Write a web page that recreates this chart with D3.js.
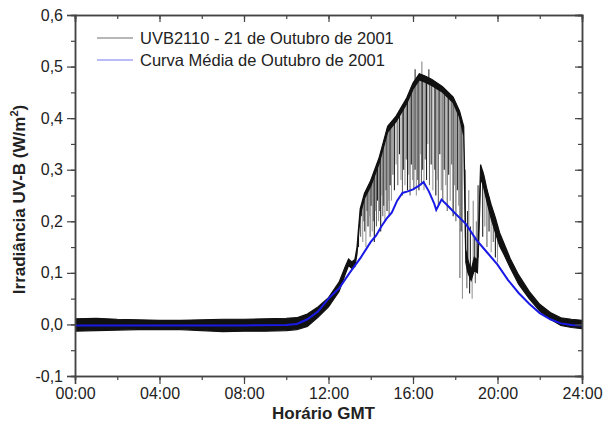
<!DOCTYPE html>
<html>
<head>
<meta charset="utf-8">
<script src="https://cdn.jsdelivr.net/npm/d3@7"></script>
<style>
  body { margin: 0; background: #fff; }
  svg text { font-family: "Liberation Sans", Arial, sans-serif; fill: #222; }
</style>
</head>
<body>
<div id="chart"></div>
<script>
// UVB2110 - 21 Oct 2001: envelope of the noisy trace (upper/lower edge)
var bandHour = [0, 1, 2, 3, 4, 5, 6, 7, 8, 9, 10, 10.5, 11, 11.5, 12, 12.5, 12.8, 12.95, 13.1, 13.25, 13.35,
  13.5, 13.7, 14.0, 14.4, 14.8, 15.2, 15.7, 16.0, 16.3, 16.6, 16.9, 17.4, 17.9, 18.2, 18.4, 18.45,
  18.5, 18.6, 18.75, 18.9, 19.05, 19.12, 19.2, 19.35, 19.5, 19.7, 19.9, 20.1, 20.3, 20.6, 21.0,
  21.5, 22.0, 22.5, 23.0, 23.5, 24.0];
var bandHi = [0.011, 0.012, 0.010, 0.009, 0.008, 0.008, 0.009, 0.010, 0.010, 0.011, 0.012, 0.013, 0.020, 0.034, 0.052, 0.082, 0.113, 0.127, 0.121, 0.126, 0.150,
  0.224, 0.254, 0.279, 0.324, 0.384, 0.404, 0.439, 0.468, 0.486, 0.481, 0.475, 0.461, 0.441, 0.414, 0.384, 0.28,
  0.145, 0.125, 0.105, 0.13, 0.125, 0.20, 0.31, 0.29, 0.262, 0.232, 0.207, 0.178, 0.158, 0.128, 0.096,
  0.064, 0.039, 0.023, 0.013, 0.010, 0.008];
var bandLo = [-0.013, -0.012, -0.011, -0.010, -0.010, -0.010, -0.012, -0.014, -0.013, -0.013, -0.012, -0.010, -0.004, 0.014, 0.034, 0.064, 0.098, 0.114, 0.109, 0.112, 0.137,
  0.212, 0.244, 0.268, 0.313, 0.373, 0.393, 0.428, 0.456, 0.474, 0.469, 0.463, 0.450, 0.430, 0.402, 0.366, 0.24,
  0.12, 0.10, 0.085, 0.105, 0.10, 0.17, 0.285, 0.265, 0.238, 0.205, 0.178, 0.152, 0.136, 0.110, 0.078,
  0.050, 0.026, 0.010, -0.002, -0.006, -0.008];

// cloud dips: hour and lowest value reached
var dipHour = [13.42, 13.47, 13.52, 13.57, 13.62, 13.67, 13.72, 13.77, 13.82, 13.87, 13.92, 13.97, 14.02, 14.07, 14.12,
  14.17, 14.22, 14.27, 14.32, 14.37, 14.42, 14.47, 14.52, 14.57, 14.62, 14.67, 14.72, 14.77, 14.82, 14.87, 14.92,
  14.98, 15.05, 15.12, 15.2, 15.28, 15.36, 15.43, 15.5, 15.56, 15.62, 15.68, 15.74, 15.8, 15.86, 15.92, 15.98,
  16.04, 16.1, 16.16, 16.22, 16.28, 16.34, 16.4, 16.46, 16.52, 16.58, 16.64, 16.7, 16.78, 16.86, 16.94,
  17.02, 17.08, 17.14, 17.2, 17.27, 17.34, 17.41, 17.48, 17.55, 17.62, 17.69, 17.76, 17.83, 17.9, 17.96,
  18.03, 18.1, 18.16, 18.22, 18.28, 18.34, 18.55, 18.68, 18.8, 18.95, 19.3, 19.4, 19.5, 19.6, 19.7, 19.8, 19.9, 20.0];
var dipLow = [0.15, 0.19, 0.17, 0.21, 0.16, 0.20, 0.18, 0.15, 0.22, 0.19, 0.21, 0.17, 0.23, 0.18, 0.20,
  0.16, 0.22, 0.19, 0.24, 0.20, 0.22, 0.18, 0.25, 0.21, 0.23, 0.20, 0.26, 0.22, 0.24, 0.21, 0.27,
  0.24, 0.29, 0.26, 0.31, 0.27, 0.33, 0.28, 0.25, 0.30, 0.27, 0.32, 0.26, 0.29, 0.25, 0.31, 0.28,
  0.26, 0.30, 0.25, 0.28, 0.26, 0.33, 0.27, 0.30, 0.26, 0.32, 0.28, 0.35, 0.27, 0.31, 0.26,
  0.30, 0.25, 0.28, 0.23, 0.33, 0.26, 0.24, 0.30, 0.27, 0.22, 0.29, 0.24, 0.31, 0.21, 0.27,
  0.20, 0.26, 0.23, 0.09, 0.18, 0.05, 0.07, 0.06, 0.05, 0.08, 0.17, 0.19, 0.15, 0.18, 0.14, 0.16, 0.13, 0.12];

// short upward spikes: hour and highest value reached
var peakHour = [16.1, 16.42, 16.75, 18.48, 18.58, 18.64, 18.72, 18.85, 18.92, 19.0, 19.08];
var peakHigh = [0.495, 0.51, 0.495, 0.30, 0.22, 0.26, 0.19, 0.24, 0.17, 0.20, 0.27];

// Curva Média de Outubro de 2001
var meanHour = [0, 2, 4, 6, 8, 10, 10.5, 11, 11.5, 12, 12.5, 13, 13.5, 14, 14.25, 14.5, 14.75, 15, 15.25, 15.5,
  15.75, 16, 16.25, 16.5, 16.75, 17, 17.1, 17.35, 17.6, 18, 18.5, 19, 19.5, 20, 20.5, 21, 21.5, 22, 22.5, 23, 23.5, 24];
var meanValue = [-0.002, -0.002, -0.002, -0.002, -0.002, -0.001, 0.001, 0.010, 0.025, 0.050, 0.070, 0.100, 0.128, 0.160, 0.172, 0.190, 0.205, 0.217, 0.240, 0.255,
  0.258, 0.262, 0.268, 0.276, 0.258, 0.235, 0.222, 0.242, 0.232, 0.215, 0.195, 0.164, 0.140, 0.116, 0.086, 0.061, 0.040, 0.022, 0.010, 0.002, -0.001, -0.002];

var xTickHours = [0, 4, 8, 12, 16, 20, 24];
var xTickLabels = ["00:00", "04:00", "08:00", "12:00", "16:00", "20:00", "24:00"];
var yTickValues = [-0.1, 0, 0.1, 0.2, 0.3, 0.4, 0.5, 0.6];
var legendLabels = ["UVB2110 - 21 de Outubro de 2001", "Curva Média de Outubro de 2001"];

var width = 605, height = 426;
var margin = { left: 75, right: 23, top: 15, bottom: 50 };
var innerW = width - margin.left - margin.right;
var innerH = height - margin.top - margin.bottom;

var svg = d3.select("#chart").append("svg")
  .attr("width", width)
  .attr("height", height);

var x = d3.scaleLinear().domain([0, 24]).range([0, innerW]);
var y = d3.scaleLinear().domain([-0.1, 0.6]).range([innerH, 0]);

var g = svg.append("g").attr("transform", "translate(" + margin.left + "," + margin.top + ")");

g.append("clipPath").attr("id", "clip")
  .append("rect").attr("width", innerW).attr("height", innerH);

var plot = g.append("g").attr("clip-path", "url(#clip)");

var topAt = d3.scaleLinear().domain(bandHour).range(bandHi);
var lowAt = d3.scaleLinear().domain(bandHour).range(bandLo);

// cloud dips, drawn under the band
plot.append("g").selectAll("line")
  .data(dipHour.map((h, i) => ({ h: h, v: dipLow[i], i: i })))
  .enter().append("line")
  .attr("x1", d => x(d.h)).attr("x2", d => x(d.h))
  .attr("y1", d => y(topAt(d.h))).attr("y2", d => y(d.v))
  .attr("stroke", d => d.i % 3 === 0 ? "#222" : (d.i % 3 === 1 ? "#999" : "#666"))
  .attr("stroke-width", 1.1);

plot.append("g").selectAll("line")
  .data(peakHour.map((h, i) => ({ h: h, v: peakHigh[i], i: i })))
  .enter().append("line")
  .attr("x1", d => x(d.h)).attr("x2", d => x(d.h))
  .attr("y1", d => y(lowAt(d.h))).attr("y2", d => y(d.v))
  .attr("stroke", d => d.i % 2 === 0 ? "#333" : "#888")
  .attr("stroke-width", 1.1);

// black trace band
var band = bandHour.map(function(h, i) { return { h: h, hi: bandHi[i], lo: bandLo[i] }; });
plot.append("path")
  .datum(band)
  .attr("d", d3.area().x(d => x(d.h)).y0(d => y(d.lo)).y1(d => y(d.hi)))
  .attr("fill", "#111")
  .attr("stroke", "#111")
  .attr("stroke-width", 1.2);

// mean curve
plot.append("path")
  .datum(meanHour.map((h, i) => [h, meanValue[i]]))
  .attr("d", d3.line().x(d => x(d[0])).y(d => y(d[1])))
  .attr("fill", "none")
  .attr("stroke", "#1a1ae6")
  .attr("stroke-width", 2);

// axes
var axisColor = "#444";
var fmtY = function(d) { return d3.format(".1f")(d).replace(".", ",").replace("−", "-"); };

function styleAxis(sel) {
  sel.attr("font-family", null);
  sel.selectAll(".domain").attr("stroke", axisColor).attr("stroke-width", 1.5);
  sel.selectAll(".tick line").attr("stroke", axisColor).attr("stroke-width", 1.2);
}

var minorX = d3.range(0, 25, 2), minorY = d3.range(-0.1, 0.601, 0.05);

var xb = g.append("g").attr("transform", "translate(0," + innerH + ")")
  .call(d3.axisBottom(x).tickValues(minorX).tickSize(4).tickFormat(""));
styleAxis(xb);
var xbm = g.append("g").attr("transform", "translate(0," + innerH + ")")
  .call(d3.axisBottom(x).tickValues(xTickHours).tickSize(8).tickPadding(4)
    .tickFormat((d, i) => xTickLabels[i]));
styleAxis(xbm);
xbm.selectAll("text").attr("font-size", 16).attr("fill", "#222");

var xt = g.append("g").call(d3.axisTop(x).tickValues(minorX).tickSize(-4).tickFormat(""));
styleAxis(xt);
var xtm = g.append("g").call(d3.axisTop(x).tickValues(xTickHours).tickSize(-7).tickFormat(""));
styleAxis(xtm);

var yl = g.append("g").call(d3.axisLeft(y).tickValues(minorY).tickSize(4).tickFormat(""));
styleAxis(yl);
var ylm = g.append("g").call(d3.axisLeft(y).tickValues(yTickValues).tickSize(8).tickPadding(4).tickFormat(fmtY));
styleAxis(ylm);
ylm.selectAll("text").attr("font-size", 16).attr("fill", "#222");

var yr = g.append("g").attr("transform", "translate(" + innerW + ",0)")
  .call(d3.axisRight(y).tickValues(minorY).tickSize(-4).tickFormat(""));
styleAxis(yr);
var yrm = g.append("g").attr("transform", "translate(" + innerW + ",0)")
  .call(d3.axisRight(y).tickValues(yTickValues).tickSize(-7).tickFormat(""));
styleAxis(yrm);

// axis titles
svg.append("text")
  .attr("x", margin.left + x(12) - 5)
  .attr("y", 419)
  .attr("text-anchor", "middle")
  .attr("font-size", 17)
  .attr("font-weight", "bold")
  .text("Horário GMT");

var yt = svg.append("text")
  .attr("transform", "translate(25," + (margin.top + innerH / 2 + 4) + ") rotate(-90)")
  .attr("text-anchor", "middle")
  .attr("font-size", 17)
  .attr("font-weight", "bold");
yt.append("tspan").text("Irradiância UV-B (W/m");
yt.append("tspan").attr("font-size", 11).attr("dy", -7).text("2");
yt.append("tspan").attr("dy", 7).text(")");

// legend
var legendColors = ["#111", "#1a1ae6"];
var leg = svg.append("g").selectAll("g")
  .data(legendLabels)
  .enter().append("g")
  .attr("transform", (d, i) => "translate(97," + (38 + i * 22) + ")");
leg.append("line")
  .attr("x1", 0).attr("x2", 36)
  .attr("stroke", (d, i) => legendColors[i])
  .attr("stroke-opacity", 0.6)
  .attr("stroke-width", 1);
leg.append("text")
  .attr("x", 43).attr("y", 6)
  .attr("font-size", 16.5)
  .text(d => d);
</script>
</body>
</html>
